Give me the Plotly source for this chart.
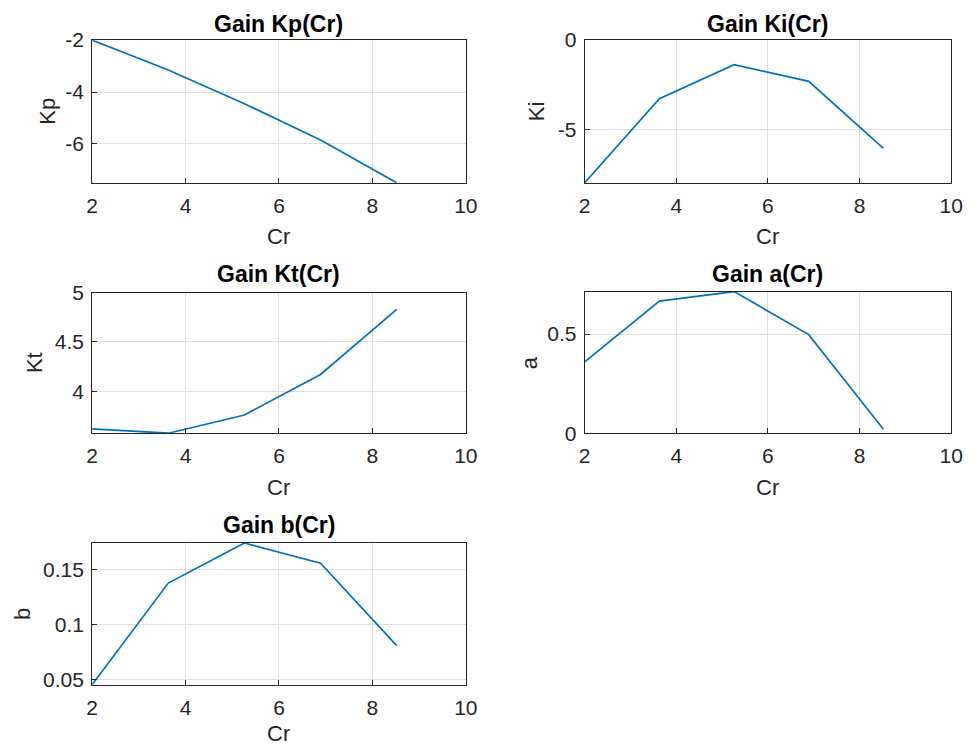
import plotly.graph_objects as go

# ---- data ----
cr = [2.0, 3.63, 5.26, 6.89, 8.52]
kp = [-2.0, -3.15, -4.45, -5.85, -7.5]
ki = [-8.0, -3.28, -1.38, -2.31, -6.07]
kt = [3.62, 3.575, 3.76, 4.17, 4.83]
a_vals = [0.36, 0.666, 0.714, 0.497, 0.02]
b_vals = [0.0455, 0.138, 0.1745, 0.156, 0.081]

x_ticks = [2, 4, 6, 8, 10]
x_ticktext = ["2", "4", "6", "8", "10"]

panels = [
    dict(name="Kp", y=kp, title="Gain Kp(Cr)", yrange=[-7.5, -2.0],
         yticks=[-6, -4, -2], yticktext=["-6", "-4", "-2"]),
    dict(name="Ki", y=ki, title="Gain Ki(Cr)", yrange=[-8.0, 0.0],
         yticks=[-5, 0], yticktext=["-5", "0"]),
    dict(name="Kt", y=kt, title="Gain Kt(Cr)", yrange=[3.575, 5.0],
         yticks=[4, 4.5, 5], yticktext=["4", "4.5", "5"]),
    dict(name="a", y=a_vals, title="Gain a(Cr)", yrange=[0.0, 0.714],
         yticks=[0, 0.5], yticktext=["0", "0.5"]),
    dict(name="b", y=b_vals, title="Gain b(Cr)", yrange=[0.0455, 0.1745],
         yticks=[0.05, 0.1, 0.15], yticktext=["0.05", "0.1", "0.15"]),
]

W, H = 976, 753


# layout positions are given in photographed-pixel terms and converted to page pixels
def px(X):
    return (X - 5.75) / 0.9825


def py(Y):
    return (Y - 9.8) / 0.9717


# (left, right, top, bottom) in page pixels
boxes = [
    (px(92), px(466), py(38), py(181)),
    (px(585), 963, py(38), py(181)),
    (px(92), px(466), py(291), py(432)),
    (px(585), 963, py(290), py(432)),
    (px(92), px(466), py(542), py(684)),
]
ylabel_x = [px(47), px(537), px(35), px(530), px(23)]
title_y = [12, 12, py(272), py(272), py(524)]
cr_y = [py(235), py(235), py(486), py(486), 744]

AX = "#262626"
GRID = "#dfdfdf"
FONT = "Liberation Sans, Arial, sans-serif"
fs = 21

fig = go.Figure()
layout = dict(
    width=W, height=H, margin=dict(l=0, r=0, t=0, b=0),
    paper_bgcolor="white", plot_bgcolor="white", showlegend=False,
    font=dict(family=FONT, size=fs, color=AX),
)
annotations = []
for i, (p, box) in enumerate(zip(panels, boxes)):
    n = "" if i == 0 else str(i + 1)
    l, r, t, b = box
    fig.add_trace(go.Scatter(x=cr, y=p["y"], mode="lines",
                             line=dict(color="#0072BD", width=1.7),
                             xaxis="x" + n, yaxis="y" + n, cliponaxis=True))
    layout["xaxis" + n] = dict(
        domain=[l / W, r / W], anchor="y" + n, range=[2, 10],
        tickvals=x_ticks, ticktext=x_ticktext, ticks="inside", ticklen=5,
        tickcolor=AX, showline=True, mirror=True, linecolor=AX, linewidth=1,
        showgrid=True, gridcolor=GRID, gridwidth=1, zeroline=False,
        tickfont=dict(size=fs, color=AX), ticklabelstandoff=4,
    )
    layout["yaxis" + n] = dict(
        domain=[1 - b / H, 1 - t / H], anchor="x" + n, range=p["yrange"],
        tickvals=p["yticks"], ticktext=p["yticktext"], ticks="inside", ticklen=5,
        tickcolor=AX, showline=True, mirror=True, linecolor=AX, linewidth=1,
        showgrid=True, gridcolor=GRID, gridwidth=1, zeroline=False,
        tickfont=dict(size=fs, color=AX), ticklabelstandoff=3,
    )
    cx = (l + r) / 2 / W
    annotations.append(dict(text="<b>" + p["title"] + "</b>", x=cx, y=1 - title_y[i] / H,
                            xref="paper", yref="paper", showarrow=False,
                            xanchor="center", yanchor="middle",
                            font=dict(size=23, color="#000000", family=FONT)))
    annotations.append(dict(text="Cr", x=cx, y=1 - cr_y[i] / H,
                            xref="paper", yref="paper", showarrow=False,
                            xanchor="center", yanchor="middle",
                            font=dict(size=22, color=AX, family=FONT)))
    annotations.append(dict(text=p["name"], x=ylabel_x[i] / W, y=1 - (t + b) / 2 / H,
                            xref="paper", yref="paper", showarrow=False, textangle=-90,
                            xanchor="center", yanchor="middle",
                            font=dict(size=22, color=AX, family=FONT)))
layout["annotations"] = annotations
fig.update_layout(**layout)
fig.write_html(
    "out.html",
    config={"displayModeBar": False},
    post_script="document.body.style.margin='0';document.body.style.overflow='hidden';",
)
